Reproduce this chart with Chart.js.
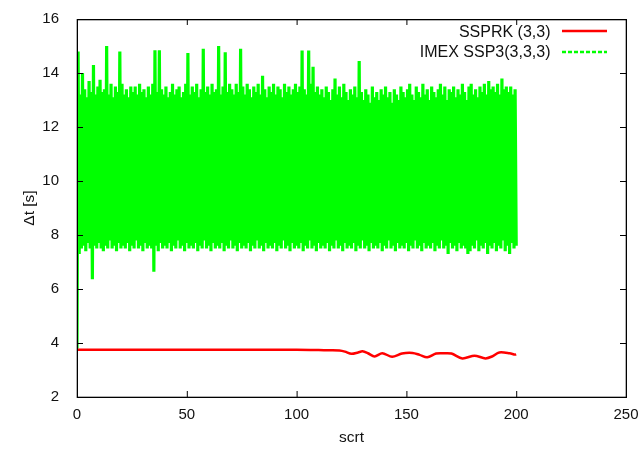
<!DOCTYPE html>
<html>
<head>
<meta charset="utf-8">
<script src="https://cdn.jsdelivr.net/npm/chart.js@4.4.1/dist/chart.umd.min.js"></script>
<style>
  body { margin: 0; background: #fff; }
  #wrap { width: 644px; height: 449px; }
</style>
</head>
<body>
<div id="wrap"><canvas id="dtChart"></canvas></div>
<script>
// SSPRK (3,3): smooth curve, flat then slight wiggle after ~115
const ssprkX = [0, 100, 110, 115, 119.5, 122, 125, 128, 130, 132.5, 135.5, 139, 143.5, 148, 152.8, 156, 159.5, 163.5, 167, 170.5, 175.5, 181, 186, 189, 192.3, 197, 199.5, 200];
const ssprkY = [3.75, 3.75, 3.74, 3.73, 3.72, 3.68, 3.60, 3.65, 3.69, 3.62, 3.50, 3.62, 3.49, 3.61, 3.63, 3.56, 3.47, 3.61, 3.62, 3.61, 3.43, 3.53, 3.43, 3.50, 3.65, 3.62, 3.57, 3.58];

// IMEX SSP3(3,3,3): fast oscillation, first value then alternating peaks / troughs
const imexStart = 3.8;
const imexHigh = [
  14.8, 13.2, 14.0, 13.4, 13.1, 13.7, 13.3, 14.3, 13.2, 13.5,
  13.75, 13.3, 13.4, 15.0, 13.2, 13.6, 13.1, 13.5, 13.3, 14.8,
  13.6, 13.2, 13.4, 13.1, 13.5, 13.3, 13.5, 13.2, 13.6, 13.3,
  13.4, 13.1, 13.5, 13.2, 13.6, 14.84, 13.3, 14.84, 13.4, 13.2,
  13.5, 13.1, 13.3, 13.6, 13.2, 13.4, 13.5, 13.1, 13.3, 13.6,
  14.74, 13.2, 13.5, 13.3, 13.6, 13.1, 13.4, 14.9, 13.3, 13.5,
  13.2, 13.6, 13.3, 13.4, 15.0, 13.2, 13.5, 14.77, 13.3, 13.6,
  13.4, 13.2, 13.6, 13.3, 14.9, 13.5, 13.2, 13.6, 13.4, 13.1,
  13.5, 13.3, 13.6, 13.2, 13.9, 13.4, 13.1, 13.5, 13.3, 13.6,
  13.2, 13.5, 13.4, 13.1, 13.6, 13.3, 13.5, 13.2, 13.4, 13.6,
  13.3, 13.5, 14.83, 13.4, 13.2, 14.83, 13.6, 14.23, 13.3, 13.5,
  13.2, 13.4, 13.1, 13.5, 13.3, 13.0, 13.4, 13.8, 13.2, 13.5,
  13.1, 13.6, 13.3, 13.0, 13.4, 13.2, 13.5, 13.1, 14.44, 13.3,
  13.0, 13.4, 13.2, 12.9, 13.5, 13.1, 13.3, 13.0, 13.4, 13.2,
  13.5, 13.1, 13.3, 12.9, 13.4, 13.2, 13.0, 13.5, 13.3, 13.1,
  13.4, 13.6, 13.2, 13.0, 13.5, 13.3, 13.1, 13.6, 13.2, 13.4,
  13.0, 13.5, 13.3, 13.1, 13.4, 13.6, 13.2, 13.5, 13.0, 13.4,
  13.3, 13.5, 13.1, 13.4, 13.2, 13.6, 13.3, 13.0, 13.5, 13.6,
  13.2, 13.4, 13.1, 13.5, 13.3, 13.6, 13.2, 13.7, 13.4, 13.5,
  13.3, 13.6, 13.2, 13.8, 13.4, 13.5, 13.3, 13.5, 13.2, 13.4
];
const imexLow = [
  7.3, 7.5, 7.6, 7.4, 7.7, 7.5, 6.36, 7.6, 7.5, 7.7,
  7.5, 7.4, 7.6, 7.5, 7.8, 7.5, 7.6, 7.4, 7.7, 7.5,
  7.6, 7.5, 7.7, 7.4, 7.6, 7.5, 7.8, 7.5, 7.6, 7.4,
  7.7, 7.5, 7.6, 7.5, 6.64, 7.6, 7.4, 7.7, 7.5, 7.6,
  7.5, 7.7, 7.4, 7.6, 7.5, 7.8, 7.5, 7.6, 7.4, 7.7,
  7.5, 7.6, 7.5, 7.7, 7.4, 7.6, 7.5, 7.8, 7.5, 7.6,
  7.4, 7.7, 7.5, 7.6, 7.5, 7.7, 7.4, 7.6, 7.5, 7.8,
  7.5, 7.6, 7.4, 7.7, 7.5, 7.6, 7.5, 7.7, 7.4, 7.6,
  7.5, 7.8, 7.5, 7.6, 7.4, 7.7, 7.5, 7.6, 7.5, 7.7,
  7.4, 7.6, 7.5, 7.8, 7.5, 7.6, 7.4, 7.7, 7.5, 7.6,
  7.5, 7.7, 7.4, 7.6, 7.5, 7.8, 7.5, 7.6, 7.4, 7.7,
  7.5, 7.6, 7.5, 7.7, 7.4, 7.6, 7.5, 7.8, 7.5, 7.6,
  7.4, 7.7, 7.5, 7.6, 7.5, 7.7, 7.4, 7.6, 7.5, 7.8,
  7.5, 7.6, 7.4, 7.7, 7.5, 7.6, 7.5, 7.7, 7.4, 7.6,
  7.5, 7.8, 7.5, 7.6, 7.4, 7.7, 7.5, 7.6, 7.5, 7.7,
  7.4, 7.6, 7.5, 7.8, 7.5, 7.6, 7.4, 7.7, 7.5, 7.6,
  7.5, 7.7, 7.4, 7.6, 7.5, 7.8, 7.5, 7.6, 7.3, 7.7,
  7.5, 7.6, 7.4, 7.7, 7.5, 7.6, 7.5, 7.3, 7.4, 7.6,
  7.5, 7.8, 7.4, 7.6, 7.5, 7.7, 7.3, 7.6, 7.5, 7.7,
  7.4, 7.6, 7.5, 7.8, 7.4, 7.6, 7.3, 7.7, 7.5, 7.6
];
const imexStep = 1;   // one peak + one trough per unit of scrt

const xTicks = [0, 50, 100, 150, 200, 250];
const yTicks = [2, 4, 6, 8, 10, 12, 14, 16];
const labels = ['SSPRK (3,3)', 'IMEX SSP3(3,3,3)'];

const ssprkPoints = ssprkX.map((x, i) => ({ x: x, y: ssprkY[i] }));
const imexPoints = [{ x: 0, y: imexStart }];
imexHigh.forEach((v, k) => {
    imexPoints.push({ x: (k + 0.5) * imexStep, y: v });
    imexPoints.push({ x: (k + 1) * imexStep, y: imexLow[k] });
});

const FONT = "'Liberation Sans', Arial, sans-serif";
const RED = '#ff0000';
const GREEN = '#00ff00';

// gnuplot-like frame, inward ticks on all four sides, and key in top right
const gnuplotLook = {
    id: 'gnuplotLook',
    afterDraw(chart) {
        const ctx = chart.ctx;
        const a = chart.chartArea;
        const xs = chart.scales.x, ys = chart.scales.y;
        ctx.save();
        ctx.fillStyle = '#000';
        ctx.fillRect(a.left, a.top, a.right - a.left + 1, 1.3);
        ctx.fillRect(a.left, a.bottom - 0.3, a.right - a.left + 1, 1.3);
        ctx.fillRect(a.left - 0.3, a.top, 1.3, a.bottom - a.top + 1);
        ctx.fillRect(a.right - 0.3, a.top, 1.3, a.bottom - a.top + 1);
        const tl = 6;
        xTicks.forEach(v => {
            const px = xs.getPixelForValue(v);
            ctx.fillRect(px, a.bottom - tl, 1, tl);
            ctx.fillRect(px, a.top, 1, tl);
        });
        yTicks.forEach(v => {
            const py = ys.getPixelForValue(v);
            ctx.fillRect(a.left, py, tl, 1);
            ctx.fillRect(a.right - tl, py, tl, 1);
        });

        // key
        ctx.font = '16px ' + FONT;
        ctx.fillStyle = '#111';
        ctx.textAlign = 'right';
        ctx.textBaseline = 'alphabetic';
        const textRight = 550.5, x0 = 562, x1 = 607;
        ctx.fillText(labels[0], textRight, 36.5);
        ctx.fillText(labels[1], textRight, 57.3);
        ctx.lineWidth = 2.5;
        ctx.strokeStyle = RED;
        ctx.beginPath(); ctx.moveTo(x0, 31); ctx.lineTo(x1, 31); ctx.stroke();
        ctx.strokeStyle = GREEN;
        ctx.setLineDash([4, 2]);
        ctx.beginPath(); ctx.moveTo(x0, 52); ctx.lineTo(x1, 52); ctx.stroke();
        ctx.restore();
    }
};

new Chart(document.getElementById('dtChart'), {
    type: 'line',
    data: {
        datasets: [{
            label: labels[0],
            data: ssprkPoints,
            borderColor: RED,
            borderWidth: 2.5,
            pointRadius: 0,
            tension: 0.3,
            fill: false
        }, {
            label: labels[1],
            data: imexPoints,
            borderColor: GREEN,
            borderWidth: 3.2,
            pointRadius: 0,
            tension: 0,
            fill: false
        }]
    },
    options: {
        responsive: true,
        maintainAspectRatio: false,
        animation: false,
        layout: { padding: { top: 14, right: 18, left: 0, bottom: 0 } },
        plugins: {
            legend: { display: false },
            tooltip: { enabled: false }
        },
        scales: {
            x: {
                type: 'linear',
                min: 0,
                max: 250,
                afterFit: s => { s.height = 52; },
                afterBuildTicks: s => { s.ticks = xTicks.map(v => ({ value: v })); },
                grid: { display: false },
                border: { display: false },
                ticks: { padding: 1, color: '#111', font: { family: FONT, size: 15 } },
                title: {
                    display: true,
                    text: 'scrt',
                    color: '#111',
                    font: { family: FONT, size: 15.5 },
                    padding: { top: 0, bottom: 2 }
                }
            },
            y: {
                min: 2,
                max: 16,
                afterFit: s => { s.width = 77; },
                afterBuildTicks: s => { s.ticks = yTicks.map(v => ({ value: v })); },
                grid: { display: false },
                border: { display: false },
                ticks: { padding: 10, color: '#111', font: { family: FONT, size: 15 } },
                title: {
                    display: true,
                    text: 'Δt [s]',
                    color: '#111',
                    font: { family: FONT, size: 15.5 },
                    padding: { top: 20, bottom: 0 }
                }
            }
        }
    },
    plugins: [gnuplotLook]
});
</script>
</body>
</html>
